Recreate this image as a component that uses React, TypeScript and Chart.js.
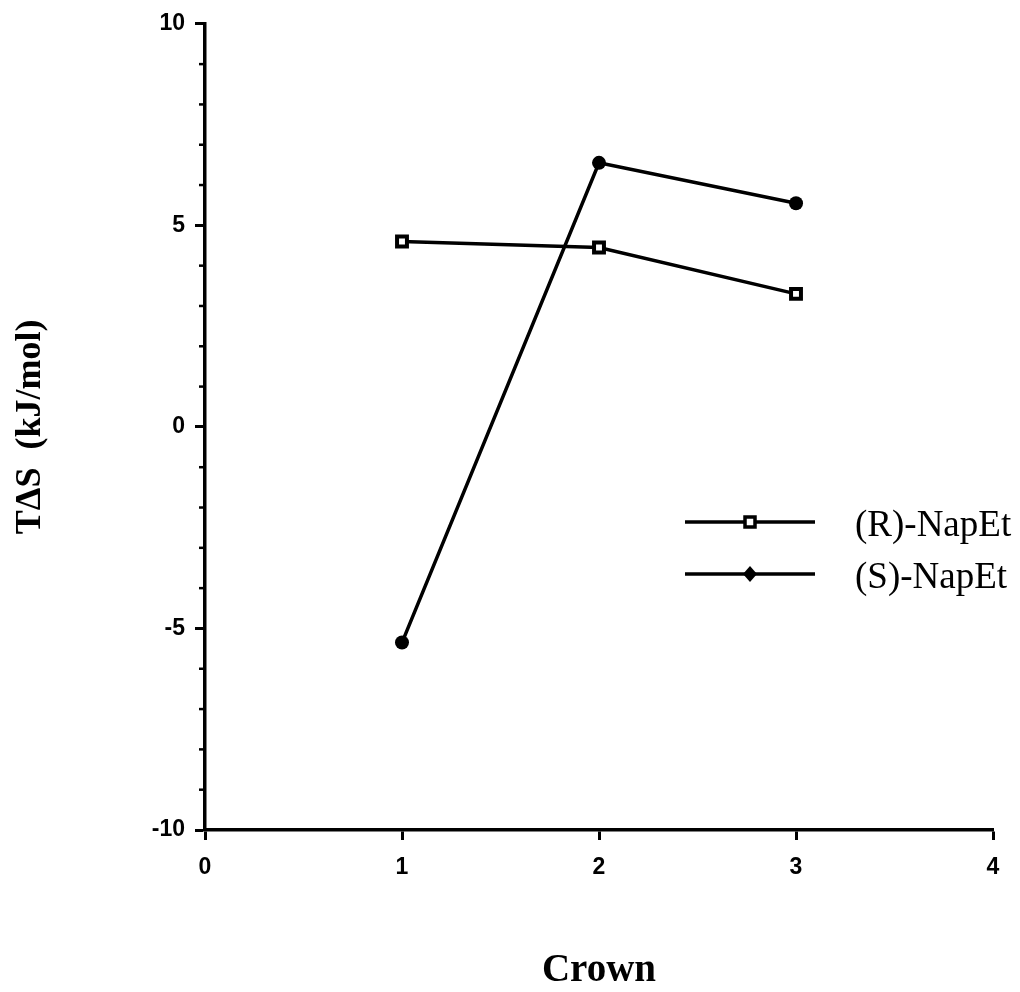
import React, { useEffect, useRef } from "react";
import { Chart, registerables } from "chart.js";

Chart.register(...registerables);

const crowns = [1, 2, 3];
const rNapEt = [4.6, 4.45, 3.3];
const sNapEt = [-5.35, 6.55, 5.55];
const seriesLabels = ["(R)-NapEt", "(S)-NapEt"];
const xTitle = "Crown";
const yTitle = "TΔS  (kJ/mol)";

const minorTicks = {
  id: "minorTicks",
  afterDraw(chart: any) {
    const ctx = chart.ctx;
    const y = chart.scales.y;
    ctx.save();
    ctx.strokeStyle = "#000";
    ctx.lineWidth = 2.5;
    for (let v = -9; v <= 9; v++) {
      if (v % 5 === 0) continue;
      const py = y.getPixelForValue(v);
      ctx.beginPath();
      ctx.moveTo(y.right - 6, py);
      ctx.lineTo(y.right, py);
      ctx.stroke();
    }
    ctx.restore();
  },
};

const customLegend = {
  id: "customLegend",
  afterDraw(chart: any) {
    const ctx = chart.ctx;
    const items = [
      { label: seriesLabels[0], y: 522, style: "square" },
      { label: seriesLabels[1], y: 574, style: "diamond" },
    ];
    ctx.save();
    for (const it of items) {
      ctx.strokeStyle = "#000";
      ctx.lineWidth = 3.5;
      ctx.beginPath();
      ctx.moveTo(685, it.y);
      ctx.lineTo(815, it.y);
      ctx.stroke();
      const cx = 750;
      if (it.style === "square") {
        ctx.fillStyle = "#fff";
        ctx.lineWidth = 3.5;
        ctx.beginPath();
        ctx.rect(cx - 5, it.y - 5, 10, 10);
        ctx.fill();
        ctx.stroke();
      } else {
        ctx.fillStyle = "#000";
        ctx.beginPath();
        ctx.moveTo(cx, it.y - 8);
        ctx.lineTo(cx + 7, it.y);
        ctx.lineTo(cx, it.y + 8);
        ctx.lineTo(cx - 7, it.y);
        ctx.closePath();
        ctx.fill();
      }
      ctx.fillStyle = "#000";
      ctx.font = "37px 'Liberation Serif', 'Times New Roman', serif";
      ctx.textAlign = "left";
      ctx.textBaseline = "middle";
      ctx.fillText(it.label, 855, it.y + 4);
    }
    ctx.restore();
  },
};

export default function App() {
  const ref = useRef<HTMLCanvasElement | null>(null);

  useEffect(() => {
    if (!ref.current) return;
    const tickFont = { family: "'Liberation Sans', Arial, sans-serif", size: 23, weight: "bold" as const };
    const chart = new Chart(ref.current, {
      type: "line",
      data: {
        datasets: [
          {
            label: seriesLabels[0],
            data: crowns.map((c, i) => ({ x: c, y: rNapEt[i] })),
            borderColor: "#000",
            borderWidth: 3.5,
            pointStyle: "rect",
            pointRadius: 7,
            pointBorderWidth: 4,
            pointBackgroundColor: "#fff",
            pointBorderColor: "#000",
            tension: 0,
          },
          {
            label: seriesLabels[1],
            data: crowns.map((c, i) => ({ x: c, y: sNapEt[i] })),
            borderColor: "#000",
            borderWidth: 3.5,
            pointStyle: "circle",
            pointRadius: 7,
            pointBorderWidth: 0,
            pointBackgroundColor: "#000",
            pointBorderColor: "#000",
            tension: 0,
          },
        ],
      },
      options: {
        animation: false,
        responsive: false,
        devicePixelRatio: 1,
        layout: { padding: { left: 0, top: 23, right: 27, bottom: 0 } },
        plugins: {
          legend: { display: false },
          tooltip: { enabled: false },
        },
        scales: {
          x: {
            type: "linear",
            min: 0,
            max: 4,
            ticks: { stepSize: 1, color: "#000", font: tickFont, padding: 14 },
            grid: {
              drawOnChartArea: false,
              drawTicks: true,
              tickLength: 10,
              tickWidth: 3,
              tickColor: "#000",
            },
            border: { display: true, color: "#000", width: 3.5 },
            title: {
              display: true,
              text: xTitle,
              color: "#000",
              font: { family: "'Liberation Serif', 'Times New Roman', serif", size: 39, weight: "bold", lineHeight: 1 },
              padding: { top: 0, bottom: 2 },
            },
            afterFit(scale: any) {
              scale.height = 162;
            },
          },
          y: {
            type: "linear",
            min: -10,
            max: 10,
            ticks: { stepSize: 5, color: "#000", font: tickFont, padding: 10 },
            grid: {
              drawOnChartArea: false,
              drawTicks: true,
              tickLength: 10,
              tickWidth: 3,
              tickColor: "#000",
            },
            border: { display: true, color: "#000", width: 3.5 },
            title: {
              display: true,
              text: yTitle,
              color: "#000",
              font: { family: "'Liberation Serif', 'Times New Roman', serif", size: 36, weight: "bold", lineHeight: 1.2 },
              padding: { top: 9, bottom: 0 },
            },
            afterFit(scale: any) {
              scale.width = 205;
            },
          },
        },
      },
      plugins: [minorTicks, customLegend],
    });
    return () => chart.destroy();
  }, []);

  return (
    <div style={{ position: "absolute", left: 0, top: 0, width: 1020, height: 992, background: "#fff" }}>
      <canvas ref={ref} width={1020} height={992} style={{ width: 1020, height: 992, display: "block" }} />
    </div>
  );
}
